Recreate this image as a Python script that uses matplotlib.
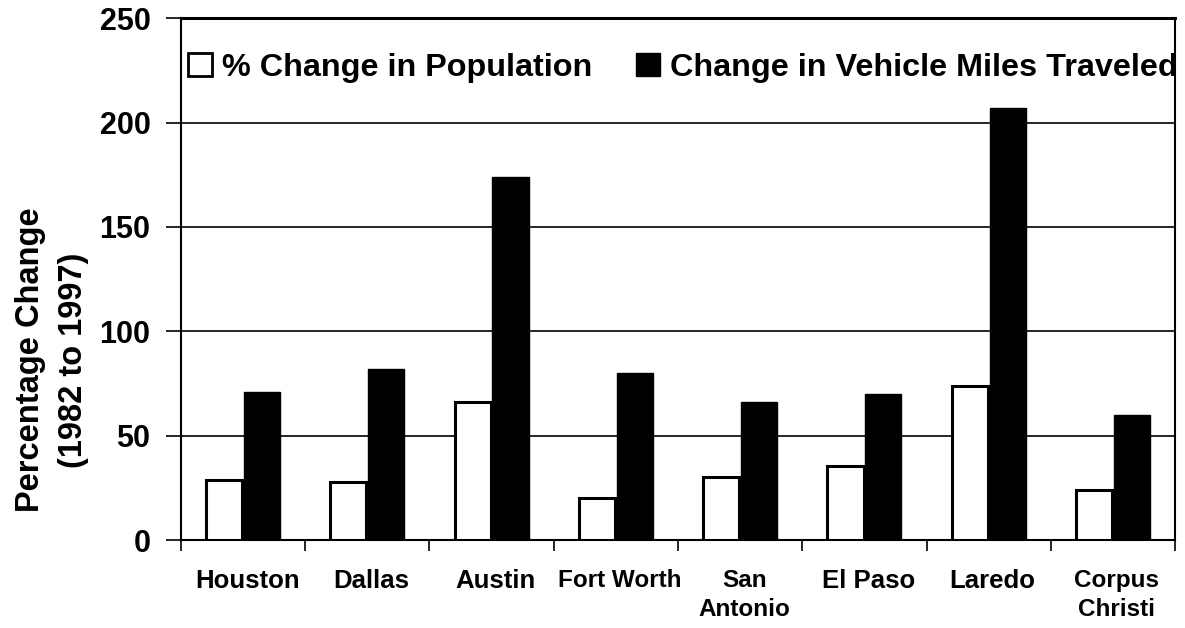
import matplotlib
matplotlib.use('Agg')
import matplotlib.pyplot as plt
from matplotlib.patches import Patch
from matplotlib.transforms import ScaledTranslation
import numpy as np

cities = ['Houston', 'Dallas', 'Austin', 'Fort Worth', 'San\nAntonio',
          'El Paso', 'Laredo', 'Corpus\nChristi']
pop_change = [29, 28, 66, 20, 30, 35.5, 74, 24]
vmt_change = [71, 82, 174, 80, 66, 70, 207, 60]
y_ticks = [0, 50, 100, 150, 200, 250]

plt.rcParams['font.family'] = ['Liberation Sans', 'DejaVu Sans']
plt.rcParams['font.weight'] = 'bold'

fig = plt.figure(figsize=(11.85, 6.28), dpi=100)
ax = fig.add_axes([0.1527, 0.140, 0.8389, 0.831])

x = np.arange(len(cities))
w = 0.29
ax.bar(x - 0.152, pop_change, w, color='white', edgecolor='black', linewidth=2.2, zorder=3)
ax.bar(x + 0.152, vmt_change, w, color='black', edgecolor='black', linewidth=1, zorder=3)

ax.set_xlim(-0.5, len(cities) - 0.5)
ax.set_ylim(0, 250)
ax.set_yticks(y_ticks)
ax.yaxis.grid(True, color='black', linewidth=1.2, zorder=0)
ax.set_axisbelow(True)

for s in ax.spines.values():
    s.set_linewidth(1.5)
ax.spines['top'].set_linewidth(2.2)

ax.tick_params(axis='y', direction='out', length=11, width=1.2, pad=11, labelsize=22)
ax.set_xticks(x)
ax.set_xticklabels(cities, fontsize=18.5, linespacing=1.3)
ax.tick_params(axis='x', length=0, pad=21)
ax.set_xticks(np.arange(len(cities) + 1) - 0.5, minor=True)
ax.tick_params(axis='x', which='minor', direction='out', length=8, width=1.2)

# the longer names are set a bit smaller in the original
shift = ScaledTranslation(4 / 100, 0, fig.dpi_scale_trans)
for lab in ax.get_xticklabels():
    if lab.get_text() in ('Fort Worth', 'San\nAntonio', 'Corpus\nChristi'):
        lab.set_fontsize(17.5)
    lab.set_transform(lab.get_transform() + shift)

fig.text(0.044, 0.427, 'Percentage Change\n(1982 to 1997)', rotation=90,
         ha='center', va='center', fontsize=23.5, fontweight='bold', linespacing=1.5)

handles = [Patch(facecolor='white', edgecolor='black', linewidth=2),
           Patch(facecolor='black', edgecolor='black')]
ax.legend(handles, ['% Change in Population', 'Change in Vehicle Miles Traveled'],
          loc='center left', bbox_to_anchor=(0.007, 0.905), ncol=2, frameon=False,
          borderpad=0, borderaxespad=0, handlelength=0.75, handleheight=0.75,
          handletextpad=0.3, columnspacing=1.35, prop={'size': 23.3, 'weight': 'bold'})

fig.savefig('out.png', dpi=100)
